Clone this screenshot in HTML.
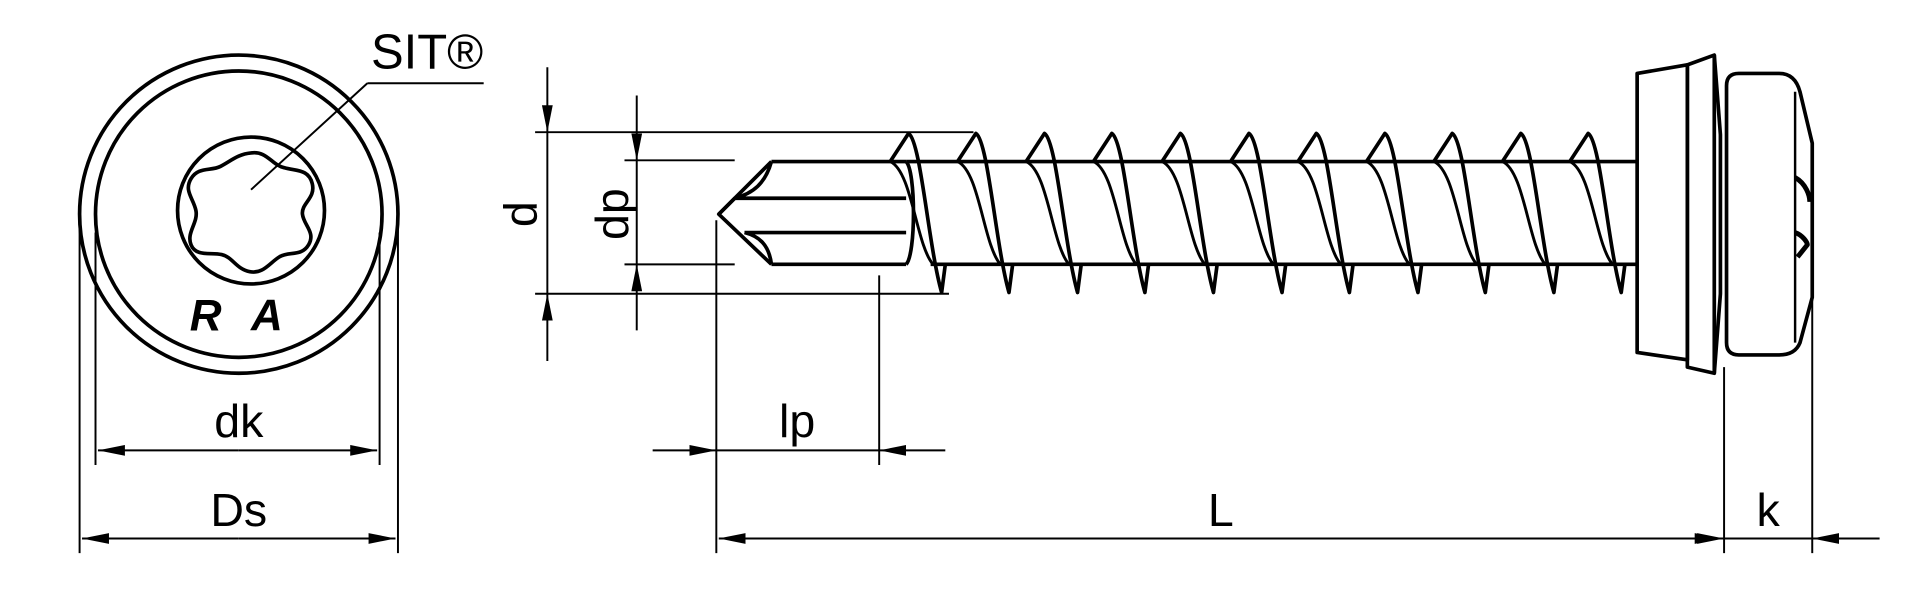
<!DOCTYPE html>
<html><head><meta charset="utf-8"><style>
html,body{margin:0;padding:0;background:#fff;width:1920px;height:596px;overflow:hidden}
svg{display:block}
text{font-family:"Liberation Sans",sans-serif;fill:#000}
</style></head><body>
<svg width="1920" height="596" viewBox="0 0 1568 487" preserveAspectRatio="none" xmlns="http://www.w3.org/2000/svg">
<defs>
<marker id="a" viewBox="0 0 20 8" refX="20" refY="4" markerWidth="22" markerHeight="9" markerUnits="userSpaceOnUse" orient="auto"><path d="M0,0 L20,4 L0,8z" fill="#000"/></marker>
</defs>
<g fill="none" stroke="#000" stroke-width="3">
<circle cx="195" cy="175" r="130"/>
<circle cx="195" cy="175" r="117"/>
<circle cx="205" cy="172" r="60" stroke-width="3"/>
<path d="M205,125 C218,123 222,135 232,137 C242,140 252,138 255,150 C258,162 246,166 247,175 C248,184 258,190 252,200 C246,210 236,205 228,210 C220,215 215,224 204,222 C193,220 190,210 181,208 C172,206 160,210 156,200 C152,190 162,182 160,172 C158,162 150,156 156,146 C162,136 172,140 180,136 C188,132 194,126 205,125Z"/>
<path d="M300,68 L395,68 M300,68 L205,155" stroke-width="1.6"/>
<path d="M65,180 V452 M325,180 V452 M78,190 V380 M310,190 V380" stroke-width="1.6"/>
</g>
<g stroke="#000" stroke-width="1.6" fill="none">
<line x1="195" y1="368" x2="80" y2="368" marker-end="url(#a)"/>
<line x1="195" y1="368" x2="308" y2="368" marker-end="url(#a)"/>
<line x1="195" y1="440" x2="67" y2="440" marker-end="url(#a)"/>
<line x1="195" y1="440" x2="323" y2="440" marker-end="url(#a)"/>
</g>
<text x="303" y="56" font-size="40">SIT®</text>
<text x="155" y="270" font-size="36" font-weight="bold" font-style="italic">R</text>
<text x="205" y="270" font-size="36" font-weight="bold" font-style="italic">A</text>
<text x="195" y="357" font-size="38" text-anchor="middle">dk</text>
<text x="195" y="430" font-size="38" text-anchor="middle">Ds</text>

<g fill="none" stroke="#000" stroke-width="3" stroke-linejoin="round">
<path d="M630,132 L740,132 M630,216 L740,216"/>
<path d="M630,132 L587,175 L630,216"/>
<path d="M630,132 C625,150 615,158 600,162 L740,162 M600,162 L587,175 M608,190 L740,190 M630,216 C628,200 620,193 608,190"/>
<path d="M740,132 C748,140 748,208 740,216"/>
<path d="M740,132 H1337 M760,216 H1337"/>
</g>
<g fill="none" stroke="#000" stroke-width="3" stroke-linejoin="round">
<path d="M727,132 L742,109 C752,115 758,200 769,239 L772,216"/>
<path d="M782,132 L797,109 C807,115 813,200 824,239 L827,216"/>
<path d="M838,132 L853,109 C863,115 869,200 880,239 L883,216"/>
<path d="M893,132 L908,109 C918,115 924,200 935,239 L938,216"/>
<path d="M949,132 L964,109 C974,115 980,200 991,239 L994,216"/>
<path d="M1005,132 L1020,109 C1030,115 1036,200 1047,239 L1050,216"/>
<path d="M1060,132 L1075,109 C1085,115 1091,200 1102,239 L1105,216"/>
<path d="M1116,132 L1131,109 C1141,115 1147,200 1158,239 L1161,216"/>
<path d="M1171,132 L1186,109 C1196,115 1202,200 1213,239 L1216,216"/>
<path d="M1227,132 L1242,109 C1252,115 1258,200 1269,239 L1272,216"/>
<path d="M1282,132 L1297,109 C1307,115 1313,200 1324,239 L1327,216"/>
<path d="M727,132 C745,140 748,200 762,216 M782,132 C800,140 803,200 817,216 M838,132 C856,140 859,200 873,216 M893,132 C911,140 914,200 928,216 M949,132 C967,140 970,200 984,216 M1005,132 C1023,140 1026,200 1040,216 M1060,132 C1078,140 1081,200 1095,216 M1116,132 C1134,140 1137,200 1151,216 M1171,132 C1189,140 1192,200 1206,216 M1227,132 C1245,140 1248,200 1262,216 M1282,132 C1300,140 1303,200 1317,216" stroke-width="2.4"/>
<path d="M1337,60 L1378,53 L1378,294 L1337,288 Z"/>
<path d="M1378,53 L1400,45 L1400,305 L1378,300 Z"/>
<path d="M1400,45 L1405,110 L1405,240 L1400,305"/>
<path d="M1420,60 H1453 Q1466,60 1470,75 L1480,117 V243 L1470,280 Q1466,290 1453,290 H1420 Q1410,290 1410,280 V70 Q1410,60 1420,60Z"/>
<path d="M1466,75 V280" stroke-width="2"/>
<path d="M1466,145 C1475,150 1478,160 1478,165 M1466,190 C1472,192 1476,198 1476,200 L1468,210" stroke-width="4"/>
</g>
<g stroke="#000" stroke-width="1.6" fill="none">
<path d="M437,108 H795 M437,240 H775 M510,131 H600 M510,216 H600"/>
<path d="M585,180 V452 M718,225 V380 M1408,300 V452 M1480,245 V452"/>
<line x1="447" y1="55" x2="447" y2="108" marker-end="url(#a)"/>
<line x1="447" y1="295" x2="447" y2="240" marker-end="url(#a)"/>
<line x1="447" y1="108" x2="447" y2="240"/>
<line x1="520" y1="78" x2="520" y2="131" marker-end="url(#a)"/>
<line x1="520" y1="270" x2="520" y2="216" marker-end="url(#a)"/>
<line x1="520" y1="131" x2="520" y2="216"/>
<line x1="533" y1="368" x2="585" y2="368" marker-end="url(#a)"/>
<line x1="585" y1="368" x2="718" y2="368"/>
<line x1="772" y1="368" x2="718" y2="368" marker-end="url(#a)"/>
<line x1="1000" y1="440" x2="587" y2="440" marker-end="url(#a)"/>
<line x1="1000" y1="440" x2="1406" y2="440" marker-end="url(#a)"/>
<line x1="1360" y1="440" x2="1408" y2="440" marker-end="url(#a)"/>
<line x1="1535" y1="440" x2="1480" y2="440" marker-end="url(#a)"/>
<line x1="1408" y1="440" x2="1480" y2="440"/>
</g>
<text x="425" y="175" font-size="38" text-anchor="middle" transform="rotate(-90 425 175)" dy="13">d</text>
<text x="500" y="175" font-size="38" text-anchor="middle" transform="rotate(-90 500 175)" dy="13">dp</text>
<text x="651" y="357" font-size="38" text-anchor="middle">lp</text>
<text x="997" y="430" font-size="38" text-anchor="middle">L</text>
<text x="1444" y="430" font-size="38" text-anchor="middle">k</text>
</svg>
</body></html>
